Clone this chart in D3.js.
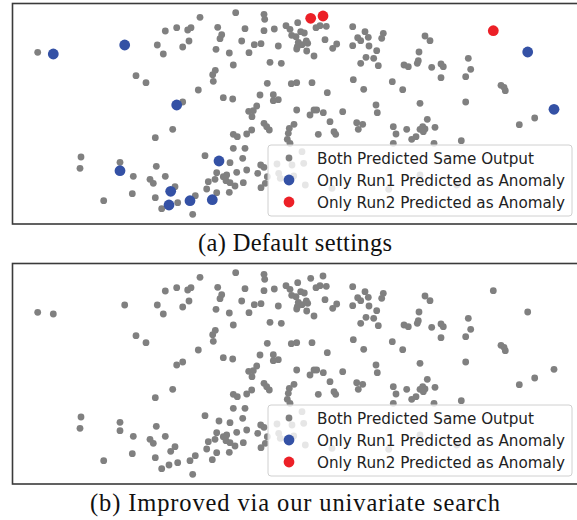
<!DOCTYPE html>
<html>
<head>
<meta charset="utf-8">
<script src="https://cdn.jsdelivr.net/npm/d3@7"></script>
<style>
  body { margin: 0; background: #fff; }
  svg { display: block; }
</style>
</head>
<body>
<div id="chart"></div>
<script>
// Embedding coordinates, shared by both runs
const samePoints = [
  [37.7,52.3],[157.3,45],[163.3,54],[165.3,31],[176.7,27.7],[187.7,30],[191,27.7],[200,17.3],[182.7,47],[189,41],
  [136,75.7],[146,82.7],[198.3,90],[182.7,102],
  [235.7,12.7],[264,14.3],[264.7,19.3],[217.7,27.3],[221.7,34.7],[220,38.7],[245,28.7],[264,30.7],[274.3,29],[286,25.7],
  [290,29.3],[297.7,22.7],[291.7,35.3],[296,36.7],[300.7,31.7],[304.3,33],[316,27.7],[320,25.7],[326.3,26.3],[352.7,26.7],
  [365,31.7],[357.7,37.7],[360.7,40.7],[368.3,37.3],[369,46],[352.7,45.7],[376.7,50.7],[241.7,41],[254.3,44.7],[261,43.7],
  [278.3,46],[216,49.3],[229.3,53],[249,52.7],[298.3,42.3],[302,44.7],[306.3,41],[307.7,43.3],[296.7,49],[297.3,46.7],
  [306.7,51],[314,56],[325,39.7],[332.7,48.3],[336.7,44],[366,57.3],[373.7,58.3],[360.7,63.3],[378.3,65.7],[270,62.3],
  [281.3,63.3],[233.3,65],[215.3,70.3],[212.7,74.7],[213.3,81.3],[267.3,83.3],[291.3,83.7],[296.7,82.7],[312,82.7],
  [353.3,79.7],[363.7,89.3],[260,95],[273.3,94.7],[273.3,100.7],[278.3,99.7],[327.3,92.7],[223.3,97.7],[232.7,99],
  [256.7,106],[248.7,111.3],[253.3,110.7],[296.7,110],[314,110],[316.7,110],[323.3,112.7],[342.7,111.7],[376,105],[377.3,112.7],
  [383.3,33.3],[381.7,38.3],[425,36],[430,40.7],[419,52],[404,65],[408.3,66.7],[417.3,63.3],[418.3,60.7],[431.7,67.3],
  [441,64],[443.3,66.7],[468.3,58.3],[470.7,69.3],[465.7,76.7],[441,77.7],[392.3,81.7],[402.7,89.7],[501,85.3],[504,87.3],
  [505.3,90.7],[420,103.3],[465.7,102],
  [172.7,129.3],[155.3,137.7],[81,157],[80,168.3],[120,162.3],[156.3,166.3],[133.3,176.3],[150,179.3],[153.3,183.3],
  [165.3,176.3],[175,186.7],[132.3,193.7],[155.3,197.7],[195.3,195.7],[103.7,200.7],[177.7,202.7],[161.7,208.7],[192.7,214.3],
  [252,116.7],[310,115],[330,121.7],[264,123.3],[266.7,126.7],[269.3,130],[289.3,128.3],[294,124.3],[356.7,122.7],[362.7,124.3],
  [233.3,134.3],[237.3,136.7],[246.7,134],[251.7,130],[288.3,133.3],[287.3,139.3],[290,143.3],[318.3,134.3],[334,131.7],
  [335.7,134.3],[358.3,129.3],[233.3,148.3],[245,148.3],[205,155.7],[230,162.7],[242.7,158.3],[260.7,165],[264,167.3],
  [216.7,172.7],[223.3,176.7],[226.7,175],[208.3,181.7],[215,179.3],[236.7,172.3],[246.7,170],[257.7,173.3],[226,180.7],
  [230,182.7],[235,186],[243.3,182.7],[206.7,189],[216.7,192.7],[229.3,192.3],[261,187.7],
  [427.3,119.3],[393.3,126.7],[396,134],[406.7,129.3],[420,129.3],[422.7,126.7],[425,129],[423.3,131.7],[435,127.3],
  [411.7,139.3],[416,136.7],[393.3,143.3],[434,143.3],[461.3,140.7],[519.3,124.7],[534.7,118],
  [267.3,176.7],[277,164],[292,165],[303.7,163.3],[302,151.7],[278.7,173.3],[280.3,178.3],[293.7,176],[305.3,185],
  [265.3,183.3],[332,188.3],[388.7,189.3],[420,175],[456.7,185]
];
const run1OnlyDefault = [
  [53.3,54],[124.7,45],[176.7,105],[120,170.7],[170.7,191.3],[190,200.7],[169,205],[219,161],[212.3,199.7],[527.7,52],[554,109.3]
];
const run2OnlyDefault = [[310.7,18.3],[323,16],[493.3,30.7]];

const legendLabels = ['Both Predicted Same Output', 'Only Run1 Predicted as Anomaly', 'Only Run2 Predicted as Anomaly'];
const captions = ['(a) Default settings', '(b) Improved via our univariate search'];

// axis limits of the embedding
const xDomain = [12, 578];
const yDomain = [3, 224];

const W = 577, H = 520;
const colors = { same: '#808080', run1: '#3451a5', run2: '#ec2027' };
const captionWidths = [194, 410];

const svg = d3.select('#chart').append('svg')
  .attr('width', W).attr('height', H)
  .style('background', '#fff');

function drawPanel(top, same, run1, run2, caption, capWidth) {
  const x = d3.scaleLinear().domain(xDomain).range([12, 578]);
  const y = d3.scaleLinear().domain(yDomain).range([top, top + 221]);
  const g = svg.append('g');

  g.selectAll('.same').data(same).enter().append('circle')
    .attr('cx', d => x(d[0])).attr('cy', d => y(d[1]))
    .attr('r', 3.4).attr('fill', colors.same);
  g.selectAll('.run1').data(run1).enter().append('circle')
    .attr('cx', d => x(d[0])).attr('cy', d => y(d[1]))
    .attr('r', 5.4).attr('fill', colors.run1);
  g.selectAll('.run2').data(run2).enter().append('circle')
    .attr('cx', d => x(d[0])).attr('cy', d => y(d[1]))
    .attr('r', 5.4).attr('fill', colors.run2);

  // legend, lower right
  const lg = g.append('g').attr('transform', `translate(268,${top + 142})`);
  lg.append('rect')
    .attr('width', 304).attr('height', 71).attr('rx', 3)
    .attr('fill', '#fff').attr('fill-opacity', 0.8)
    .attr('stroke', '#d0d0d0').attr('stroke-width', 1);
  const legendColors = [colors.same, colors.run1, colors.run2];
  const legendR = [3.4, 5.4, 5.4];
  legendLabels.forEach((lab, i) => {
    const cy = 13 + i * 22;
    lg.append('circle').attr('cx', 21).attr('cy', cy).attr('r', legendR[i]).attr('fill', legendColors[i]);
    lg.append('text').attr('x', 49).attr('y', cy + 5.5)
      .attr('font-family', 'DejaVu Sans').attr('font-size', 15.2).attr('fill', '#222')
      .text(lab);
  });

  // axes frame (right edge falls outside the picture)
  g.append('rect')
    .attr('x', 12.5).attr('y', top + 0.5).attr('width', 570).attr('height', 220.5)
    .attr('fill', 'none').attr('stroke', '#3a3a3a').attr('stroke-width', 1.6);

  svg.append('text')
    .attr('x', 295).attr('y', top + 248)
    .attr('text-anchor', 'middle')
    .attr('font-family', 'Liberation Serif').attr('font-size', 24.5).attr('fill', '#111')
    .attr('textLength', capWidth).attr('lengthAdjust', 'spacing')
    .text(caption);
}

drawPanel(3, samePoints, run1OnlyDefault, run2OnlyDefault, captions[0], captionWidths[0]);
drawPanel(263, samePoints.concat(run1OnlyDefault, run2OnlyDefault), [], [], captions[1], captionWidths[1]);
</script>
</body>
</html>
